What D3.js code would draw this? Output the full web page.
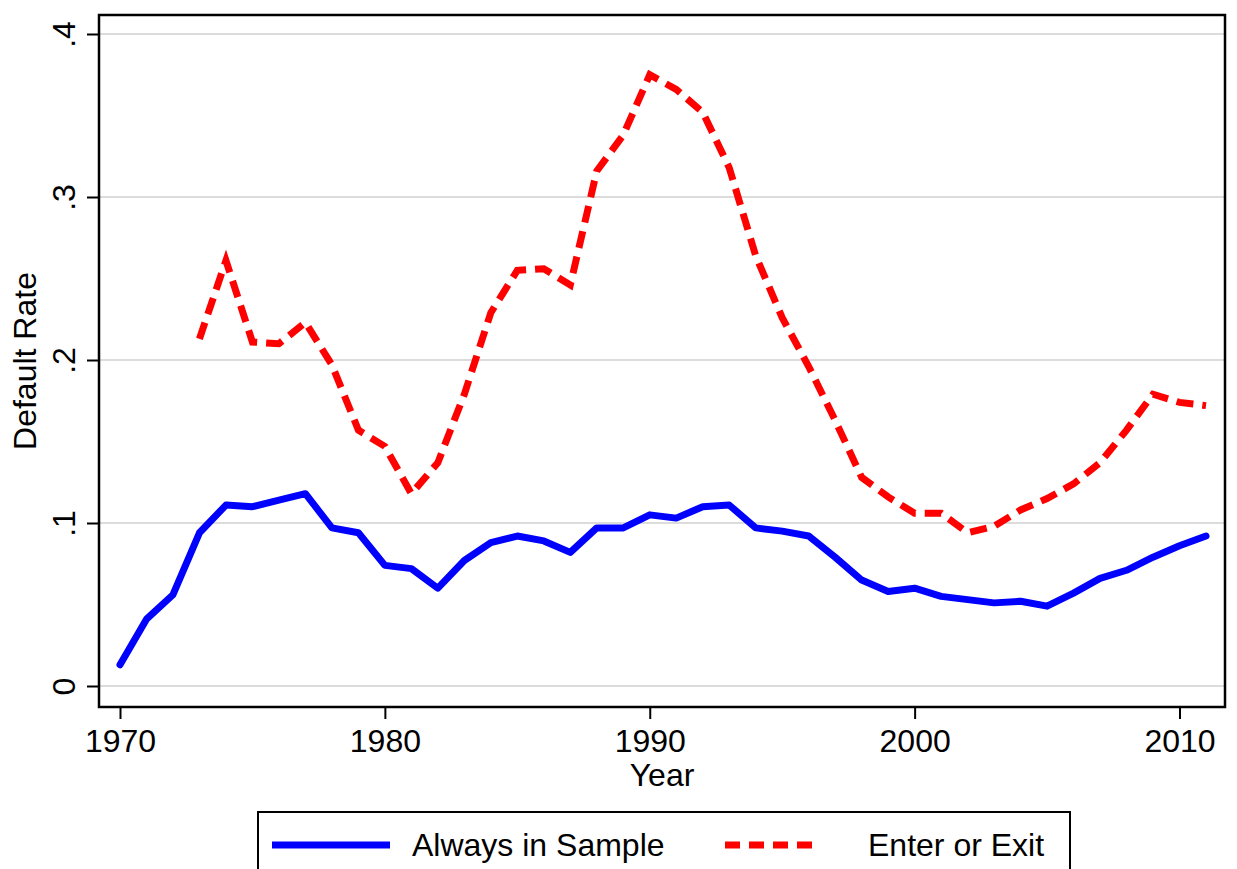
<!DOCTYPE html>
<html>
<head>
<meta charset="utf-8">
<script src="https://cdn.jsdelivr.net/npm/d3@7"></script>
<style>
  body { margin: 0; background: #fff; }
  svg { font-family: "Liberation Sans", Arial, Helvetica, sans-serif; }
</style>
</head>
<body>
<svg id="chart" width="1237" height="869"></svg>
<script>
// data
const years = d3.range(1970, 2012);
const always = [0.013, 0.041, 0.056, 0.094, 0.111, 0.110, 0.114, 0.118, 0.097, 0.094,
  0.074, 0.072, 0.060, 0.077, 0.088, 0.092, 0.089, 0.082, 0.097, 0.097,
  0.105, 0.103, 0.110, 0.111, 0.097, 0.095, 0.092, 0.079, 0.065, 0.058,
  0.060, 0.055, 0.053, 0.051, 0.052, 0.049, 0.057, 0.066, 0.071, 0.079,
  0.086, 0.092];
const enterExit = [null, null, null, 0.213, 0.261, 0.211, 0.210, 0.223, 0.197, 0.157,
  0.147, 0.118, 0.137, 0.179, 0.229, 0.255, 0.256, 0.246, 0.316, 0.338,
  0.375, 0.366, 0.352, 0.318, 0.264, 0.226, 0.196, 0.163, 0.128, 0.116,
  0.106, 0.106, 0.094, 0.098, 0.108, 0.115, 0.124, 0.137, 0.157, 0.179,
  0.174, 0.172];
const yTicks = [0, 0.1, 0.2, 0.3, 0.4];
const yTickLabels = ["0", ".1", ".2", ".3", ".4"];
const xTicks = [1970, 1980, 1990, 2000, 2010];
const seriesNames = ["Always in Sample", "Enter or Exit"];

const svg = d3.select("#chart");
const box = { left: 99, right: 1225, top: 15, bottom: 707 };
const fs = 32;

const x = d3.scaleLinear().domain([1970, 2010]).range([120, 1179.5]);
const y = d3.scaleLinear().domain([0, 0.4]).range([686, 34]);

// gridlines
svg.append("g").selectAll("line").data(yTicks).join("line")
  .attr("x1", box.left).attr("x2", box.right)
  .attr("y1", d => y(d)).attr("y2", d => y(d))
  .attr("stroke", "#dcdcdc").attr("stroke-width", 2);

// axes
const yAxis = svg.append("g").attr("transform", `translate(${box.left},0)`)
  .call(d3.axisLeft(y).tickValues(yTicks).tickSize(12).tickPadding(0)
    .tickFormat((d, i) => yTickLabels[i]));
yAxis.select(".domain").remove();
yAxis.selectAll(".tick line").attr("stroke", "#000").attr("stroke-width", 2);
yAxis.selectAll(".tick text")
  .attr("transform", "rotate(-90)")
  .attr("x", 0).attr("y", -24)
  .attr("text-anchor", "middle")
  .attr("dy", 0)
  .attr("font-size", fs).attr("fill", "#000");

const xAxis = svg.append("g").attr("transform", `translate(0,${box.bottom})`)
  .call(d3.axisBottom(x).tickValues(xTicks).tickSize(12).tickPadding(6)
    .tickFormat(d3.format("d")));
xAxis.select(".domain").remove();
xAxis.selectAll(".tick line").attr("stroke", "#000").attr("stroke-width", 2);
xAxis.selectAll(".tick text").attr("font-size", fs).attr("fill", "#000").attr("dy", "0.85em");

// plot frame
svg.append("rect")
  .attr("x", box.left).attr("y", box.top)
  .attr("width", box.right - box.left).attr("height", box.bottom - box.top)
  .attr("fill", "none").attr("stroke", "#000").attr("stroke-width", 2.5);

// titles
svg.append("text").attr("x", 662).attr("y", 786)
  .attr("text-anchor", "middle").attr("font-size", fs).text("Year");
svg.append("text").attr("transform", "translate(36,361) rotate(-90)")
  .attr("text-anchor", "middle").attr("font-size", fs).text("Default Rate");

// lines
const line = d3.line()
  .defined(d => d[1] != null)
  .x(d => x(d[0])).y(d => y(d[1]));

svg.append("path")
  .datum(years.map((yr, i) => [yr, always[i]]))
  .attr("d", line)
  .attr("fill", "none").attr("stroke", "#0000ff").attr("stroke-width", 7)
  .attr("stroke-linejoin", "round").attr("stroke-linecap", "round");

svg.append("path")
  .datum(years.map((yr, i) => [yr, enterExit[i]]))
  .attr("d", line)
  .attr("fill", "none").attr("stroke", "#ff0000").attr("stroke-width", 7)
  .attr("stroke-dasharray", "17,9");

// legend
const leg = svg.append("g");
leg.append("rect").attr("x", 258).attr("y", 812).attr("width", 812).attr("height", 70)
  .attr("fill", "#fff").attr("stroke", "#000").attr("stroke-width", 2);
leg.append("line").attr("x1", 272).attr("x2", 390).attr("y1", 845).attr("y2", 845)
  .attr("stroke", "#0000ff").attr("stroke-width", 7);
leg.append("text").attr("x", 412).attr("y", 856).attr("font-size", fs).text(seriesNames[0]);
leg.append("line").attr("x1", 725).attr("x2", 818).attr("y1", 845).attr("y2", 845)
  .attr("stroke", "#ff0000").attr("stroke-width", 7).attr("stroke-dasharray", "15,9");
leg.append("text").attr("x", 868).attr("y", 856).attr("font-size", fs).text(seriesNames[1]);
</script>
</body>
</html>
